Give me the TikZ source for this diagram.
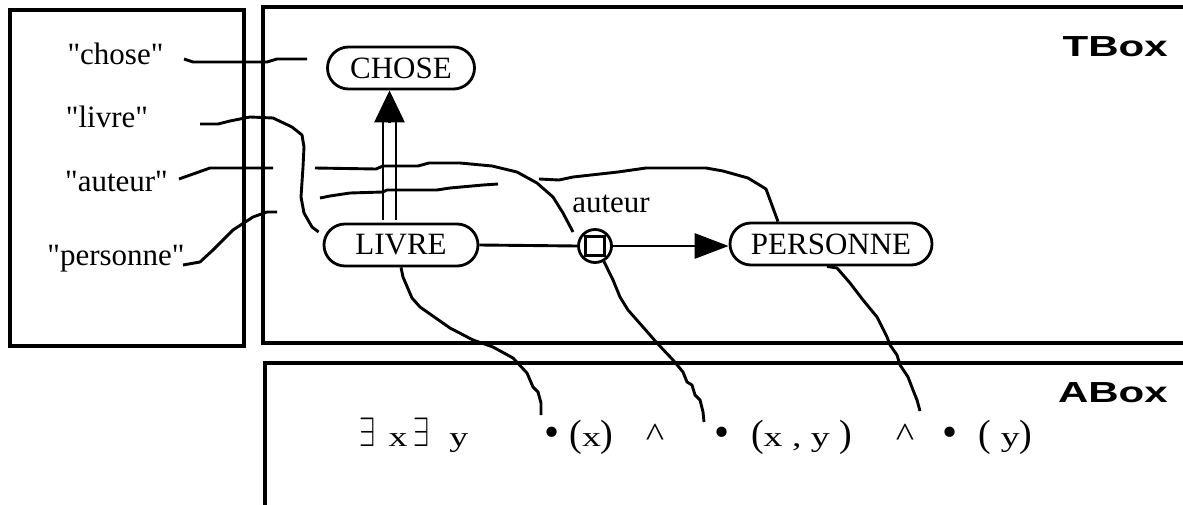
\RequirePackage{fix-cm}
\documentclass[tikz,border=0pt]{standalone}
\usepackage{fontspec}
\setmainfont{Liberation Serif}[Ligatures=TeXOff]
\setsansfont{Liberation Sans}
\usepackage{graphicx}
\usepackage{tikz}
\usetikzlibrary{arrows.meta, calc}
% pieces of the ABox formula
\newcommand{\abletter}[1]{\scalebox{1.35}[1]{\fontsize{28}{32}\selectfont #1}}
\newcommand{\abparen}[1]{{\fontsize{38}{40}\selectfont #1}}
\newcommand{\abexists}{\scalebox{0.7}[1]{\fontsize{41}{42}\selectfont$\exists$}}
\newcommand{\abcaret}{\scalebox{1.15}[1]{\fontsize{34}{36}\selectfont\textasciicircum}}

\begin{document}
\begin{tikzpicture}[
  x=1pt, y=-1pt,
  frame/.style={line width=3.2pt},
  concept/.style={draw, line width=2.8pt, rounded corners=21pt, minimum height=42pt,
                  inner sep=0pt, font=\fontsize{31}{36}\selectfont},
  word/.style={inner sep=0pt, anchor=base, font=\fontsize{31}{36}\selectfont},
  formula/.style={inner sep=0pt, anchor=base},
  dot/.style={inner sep=0pt, anchor=base, font=\fontsize{43}{46}\selectfont},
  boxname/.style={inner sep=0pt, anchor=base east, font=\sffamily\bfseries\fontsize{29}{34}\selectfont},
  link/.style={line width=2.9pt, line join=round},
  head/.style={-{Triangle[length=34pt, width=25pt]}}
]
  \useasboundingbox (0,0) rectangle (1183,505);

  % the three boxes
  \draw[frame] (10,10) rectangle (244,346);
  \draw[frame] (1200,7) -- (263,7) -- (263,343) -- (1200,343);
  \draw[frame] (1200,363) -- (265,363) -- (265,520);
  \node[boxname] (tbox) at (1168,57) {\scalebox{1.45}[1]{TBox}};
  \node[boxname] (abox) at (1168,402) {\scalebox{1.45}[1]{ABox}};

  % words
  \node[word] (lchose) at (115.5,65) {"chose"};
  \node[word] (llivre) at (107,128) {"livre"};
  \node[word] (lauteur) at (116.5,192) {"auteur"};
  \node[word] (lpersonne) at (116,265) {"personne"};

  % concepts and role
  \node[concept, minimum width=147pt] (CHOSE) at (401,68) {CHOSE};
  \node[concept, minimum width=154pt] (LIVRE) at (401,245) {LIVRE};
  \node[concept, minimum width=202pt] (PERSONNE) at (831,244) {PERSONNE};
  \node[draw, circle, line width=2.8pt, minimum size=33pt, inner sep=0pt] (rel) at (595,246) {};
  \node[draw, line width=2.8pt, minimum size=19pt, inner sep=0pt] (relsq) at (595,246) {};
  \node[word] (relname) at (611,213) {auteur};

  % subsumption LIVRE -> CHOSE
  \coordinate (isaBot) at ($(LIVRE.north)+(-11.5,-3)$);
  \coordinate (isaTip) at ($(CHOSE.south)+(-11.5,0)$);
  \draw[link] ($(isaBot)+(-6.5,0)$) -- ($(isaTip)+(-6.5,31)$);
  \draw[link] ($(isaBot)+(6.5,0)$) -- ($(isaTip)+(6.5,31)$);
  \draw[link, -{Triangle[length=32pt, width=30pt]}] ($(isaTip)+(0,33)$) -- (isaTip);

  % role LIVRE -> PERSONNE
  \draw[link] (LIVRE.east) -- (rel.west);
  \draw[link, head] (rel.east) -- (rel.east -| PERSONNE.west);

  % words to concepts
  \draw[link] (184,59) -- (193,62) -- (267,62) -- (277,59) -- (307,59);
  \draw[link] (200,124) -- (218,124) -- (230,121) -- (245,118) -- (250,117) -- (273,118)
    -- (292,127) -- (302,135) -- (304,147) -- (303,167) -- (302,182) -- (301,197)
    -- (304,213) -- (312,227) -- ($(LIVRE.west)+(-4,-13)$);
  \draw[link] (179,179) -- (210,168) -- (273,168);
  \draw[link] (315,168) -- (376,169) -- (383,166) -- (418,166) -- (429,163) -- (460,163)
    -- (492,166) -- (517,172) -- (537,183) -- (553,197) -- (563,213) -- (573,232);
  \draw[link] (183,265) -- (200,262) -- (213,250) -- (233,230) -- (253,217) -- (267,212) -- (277,212);
  \draw[link] (320,198) -- (330,196) -- (350,193) -- (383,192) -- (387,190) -- (437,190)
    -- (450,188) -- (483,185) -- (498,184);
  \draw[link] (539,179) -- (559,180) -- (573,177) -- (618,172) -- (646,168) -- (706,168)
    -- (723,171) -- (748,178) -- (766,189) -- ($(PERSONNE.north)+(-53,0)$);

  % formula
  \node[formula] (exists) at (414,446)
    {\abexists\hspace{13pt}\abletter{x}\hspace{6pt}\abexists\hspace{20pt}\abletter{y}};
  \node[dot] (b1) at (552,446) {•};
  \node[formula] (f1) at (591.5,446) {\abparen{(}\abletter{x}\abparen{)}};
  \node[formula] (and1) at (655,446) {\abcaret};
  \node[dot] (b2) at (722,446) {•};
  \node[formula] (f2) at (801.5,446) {\abparen{(}\abletter{x , y\ }\abparen{)}};
  \node[formula] (and2) at (905,446) {\abcaret};
  \node[dot] (b3) at (950,446) {•};
  \node[formula] (f3) at (1005.5,446) {\abparen{(}\abletter{\ y}\abparen{)}};

  % concepts to formula
  \draw[link] (LIVRE.south) -- (403,277) -- (412,298) -- (420,307) -- (450,328) -- (473,340)
    -- (493,347) -- (513,358) -- (527,373) -- (533,387) -- (538,392) -- (541,403) -- (541,415);
  \draw[link] (rel.-60) -- (613,280) -- (620,297) -- (628,310) -- (643,327) -- (657,343)
    -- (673,360) -- (683,372) -- (687,382) -- (692,385) -- (695,395) -- (700,400)
    -- (703,412) -- (704,422);
  \draw[link] ($(PERSONNE.south)+(-4,0)$) -- (837,268) -- (850,283) -- (863,300) -- (877,317)
    -- (887,337) -- (890,345) -- (897,355) -- (900,365) -- (908,377) -- (913,390)
    -- (917,400) -- (920,411);
\end{tikzpicture}
\end{document}
